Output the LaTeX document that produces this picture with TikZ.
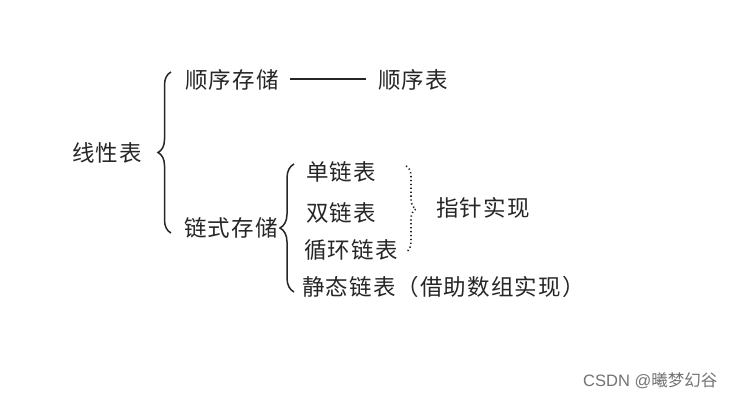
\documentclass[tikz,border=0pt]{standalone}
\usepackage{fontspec}
\newfontfamily\cjk[LetterSpace=5]{Noto Sans CJK SC}
\newfontfamily\cjkwm{Noto Sans CJK SC}
\usetikzlibrary{decorations.pathreplacing,calc}
\begin{document}
\begin{tikzpicture}[x=1pt,y=-1pt,
  lbl/.style={font=\cjk\fontsize{22.5}{26}\selectfont, text=black!85, inner sep=0pt, anchor=west},
  brc/.style={draw=black!85, line width=1.5pt, decorate, decoration={brace, amplitude=#1}},
  brc/.default=10
]
\useasboundingbox (0,0) rectangle (735,400);
\fill[white] (0,0) rectangle (735,400);
\node[lbl] (lin) at (72,153) {线性表};
\node[lbl] (seq) at (185,80) {顺序存储};
\node[lbl] (seqt) at (378,80) {顺序表};
\node[lbl] (chain) at (184,228) {链式存储};
\node[lbl] (single) at (306,172) {单链表};
\node[lbl] (double) at (306,213) {双链表};
\node[lbl] (circ) at (304,250) {循环链表};
\node[lbl] (static) at (302,287) {静态链表（借助数组实现）};
\node[lbl] (ptr) at (436,208) {指针实现};
\node[font=\fontspec{Liberation Sans}\fontsize{16.5}{18}\selectfont, text=black!55, inner sep=0pt, anchor=west] (wm) at (583,381) {CSDN @{\cjkwm 曦梦幻谷}};
\draw[line width=1.6pt, black!85] ($(seq.east)+(11,-1)$) coordinate (l1) -- ($(seqt.west)+(-12,-1)$) coordinate (l2);
\coordinate (b1a) at (171,233);
\coordinate (b1b) at (171,72);
\draw[brc=13] (b1a) -- (b1b);
\coordinate (b2a) at (294,292);
\coordinate (b2b) at (294,164);
\draw[brc=14] (b2a) -- (b2b);
\coordinate (b3a) at (406,166);
\coordinate (b3b) at (406,252);
\draw[draw=black!85, line width=1.6pt, dash pattern=on 1.3pt off 2.6pt, decorate, decoration={brace, amplitude=10}] (b3a) -- (b3b);
\end{tikzpicture}
\end{document}
